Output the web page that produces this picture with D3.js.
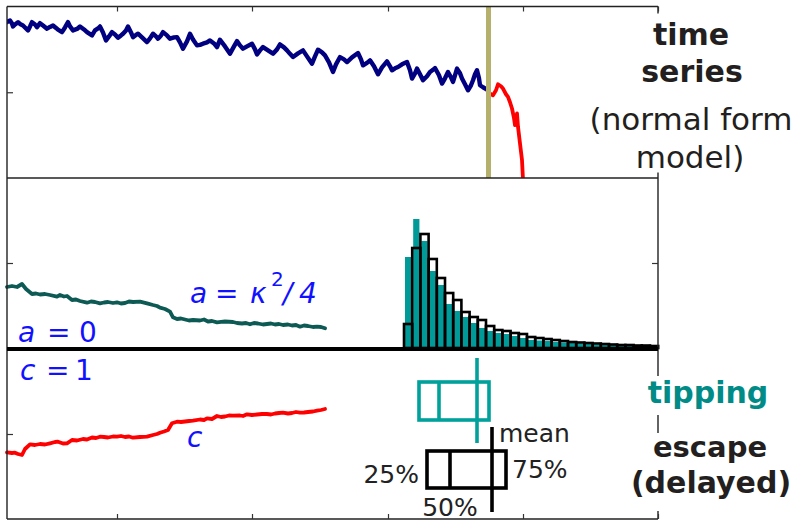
<!DOCTYPE html>
<html><head><meta charset="utf-8">
<script src="https://cdn.jsdelivr.net/npm/d3@7"></script>
<style>
body{margin:0;background:#fff}
svg{display:block}
text{font-family:"DejaVu Sans",sans-serif}
</style>
</head><body>
<svg id="c" width="797" height="521"></svg>
<script>
// ---------------- data ----------------
const xTicks = [110, 245, 381, 516, 651];

// top panel: normal form model time series (before / after tipping)
const blueT = [0,2,3,5,6,8,11,13,16,18,21,23,25,28,30,33,36,40,43,46,49,51,55,58,61,63,66,70,73,77,80,85,88,91,93,96,99,102,105,108,111,114,116,119,121,124,126,129,131,135,140,143,146,149,151,154,156,160,163,167,170,173,176,180,183,186,190,193,196,200,203,207,210,213,218,223,227,230,233,236,240,245,248,250,253,256,261,266,270,273,277,280,283,286,291,296,300,305,308,311,315,318,322,326,329,333,337,340,345,351,354,356,360,363,367,371,375,380,383,385,388,391,395,400,403,405,408,410,413,416,420,423,426,428,432,435,438,441,444,446,448,450,453,455,458,461,464,466,468,470,472,473,476,480];
const blueV = [7.03,7.15,7.2,6.9,6.6,6.8,7.03,6.85,6.7,6.5,6.2,6.6,7.03,6.8,6.53,6.93,6.7,6.37,6.55,6.7,6.45,6.27,6.03,6.5,7.03,6.6,6.2,6.35,6.6,6.3,6.03,5.7,6.2,6.4,6.6,6.0,5.2,5.6,6.03,5.8,5.47,5.7,5.87,6.2,6.6,6.0,5.53,5.75,5.87,5.5,5.03,5.4,5.87,5.6,5.37,5.7,6.03,5.7,5.37,5.5,5.53,5.0,4.37,5.1,5.87,5.3,4.7,4.75,4.87,5.0,5.2,4.9,4.53,5.27,4.6,3.87,4.6,5.13,4.7,4.37,4.6,4.87,4.3,3.8,4.2,4.53,4.2,3.87,4.3,4.8,4.5,4.2,3.85,3.53,3.9,4.2,3.6,2.87,3.6,4.27,4.0,3.7,3.0,2.03,2.8,3.53,3.3,3.03,3.5,3.93,3.3,2.7,2.95,3.2,2.6,1.8,2.5,3.1,2.6,2.2,2.4,2.53,2.8,3.03,2.2,1.37,1.9,2.37,1.8,1.2,1.6,2.03,2.25,2.43,1.7,0.87,1.4,2.03,1.5,1.03,1.7,2.37,1.9,1.37,0.8,0.2,0.7,1.2,1.8,2.2,1.4,0.7,0.5,0.27];
const redT = [480,483,486,489,491,494,496,499,501,503,505,507,508,510,511,513,515,516];
const redV = [0.27,-0.13,-0.3,0.2,0.8,0.6,0.37,-0.2,-0.47,-1.0,-1.63,-2.6,-3.3,-2.13,-3.47,-5.13,-6.8,-8.8];
const tippingTime = 481.5;

// middle panel: a(t) path and histograms
const aLineT = [0,5,10,15,19,25,29,33,38,43,50,53,57,60,65,69,73,80,84,88,93,97,101,106,110,114,118,122,126,133,140,146,150,153,158,163,166,170,174,178,182,186,193,197,201,205,210,214,218,226,230,235,239,243,247,251,256,260,264,268,272,276,281,285,289,293,297,301,306,310,314,318];
const aLineV = [6.1,6.2,6.1,6.4,5.9,5.4,5.45,5.35,5.4,5.3,5.13,5.3,5.15,5.2,4.8,4.85,4.7,4.53,4.65,4.6,4.47,4.55,4.6,4.5,4.57,4.45,4.5,4.65,4.6,4.63,4.47,4.3,4.2,4.03,3.9,3.63,3.07,2.9,2.95,2.85,2.75,2.8,2.75,2.85,2.65,2.7,2.57,2.62,2.65,2.6,2.5,2.45,2.5,2.37,2.5,2.45,2.35,2.4,2.45,2.35,2.4,2.3,2.35,2.25,2.3,2.13,2.25,2.2,2.1,2.13,2.1,1.97];
const binStart = 397, binWidth = 8.2;
const escapeCounts  = [2.4,10.0,11.4,8.9,7.0,5.5,4.8,3.6,3.1,2.8,2.2,1.8,1.7,1.5,1.4,1.1,1.0,0.9,0.8,0.7,0.6,0.55,0.5,0.45,0.4,0.35,0.3,0.3,0.25,0.25,0.2];
const tippingCounts = [9.1,12.9,10.7,7.7,6.3,4.4,3.7,3.1,2.5,2.0,1.7,1.5,1.4,1.2,1.0,0.8,0.75,0.7,0.6,0.55,0.5,0.45,0.4,0.35,0.3,0.3,0.25,0.2,0.2,0.15,0.15];

// bottom panel: c(t) path and quartile boxes
const cLineT = [0,5,8,11,15,18,23,28,33,38,43,48,51,56,60,65,70,76,80,85,89,93,97,101,106,110,114,118,122,126,133,140,146,150,153,157,161,165,170,174,178,182,186,193,197,200,205,210,214,218,222,226,233,236,240,245,250,255,260,264,268,272,276,281,285,289,293,297,301,306,310,314,318];
const cLineV = [6.67,6.6,6.63,6.5,6.4,7.0,7.47,7.4,7.5,7.45,7.57,7.7,7.73,7.55,7.57,7.9,7.85,8.0,7.95,8.15,8.1,8.23,8.2,8.15,8.25,8.23,8.3,8.2,8.25,8.13,8.2,8.23,8.4,8.5,8.63,8.75,8.9,9.57,9.73,9.7,9.75,9.8,9.83,9.95,9.9,10.07,10.0,10.3,10.2,10.25,10.35,10.33,10.35,10.3,10.47,10.4,10.45,10.5,10.5,10.45,10.55,10.6,10.63,10.55,10.6,10.7,10.63,10.65,10.7,10.75,10.83,10.9,11.0];
const statLabels = ["25%", "50%", "mean", "75%"];
const tippingStats = [412, 432, 470, 482];
const escapeStats  = [420, 443, 485, 499];

// ---------------- drawing ----------------
const svg = d3.select("#c");
const L = 7, R = 658, T1 = 6.5, B1 = 178, B2 = 349, B3 = 519;
const x = d3.scaleLinear().domain([0, 651]).range([L, R]);
const yTop = d3.scaleLinear().domain([-8.6, 8.6]).range([B1, T1]);
const yMid = d3.scaleLinear().domain([0, 17]).range([348, B1]);
const yBot = d3.scaleLinear().domain([0, 17]).range([B3, B2]);

const defs = svg.append("defs");
defs.append("clipPath").attr("id","clipTop").append("rect")
  .attr("x", L).attr("y", T1).attr("width", R-L).attr("height", B1-T1);

const zip = (a,b) => a.map((v,i)=>[v,b[i]]);

// top panel
const gTop = svg.append("g").attr("clip-path","url(#clipTop)");
const lineTop = d3.line().x(d=>x(d[0])).y(d=>yTop(d[1]));
gTop.append("path").attr("d", lineTop(zip(blueT, blueV)))
  .attr("fill","none").attr("stroke","#000080").attr("stroke-width",4.4)
  .attr("stroke-linejoin","round").attr("stroke-linecap","round");
gTop.append("path").attr("d", lineTop(zip(redT, redV)))
  .attr("fill","none").attr("stroke","#ff0000").attr("stroke-width",3.8).attr("stroke-linejoin","round");
gTop.append("line").attr("x1", x(tippingTime)).attr("x2", x(tippingTime))
  .attr("y1", T1).attr("y2", B1).attr("stroke","#b5b06b").attr("stroke-width",5);

// middle panel
const lineMid = d3.line().x(d=>x(d[0])).y(d=>yMid(d[1]));
svg.append("path").attr("d", lineMid(zip(aLineT, aLineV)))
  .attr("fill","none").attr("stroke","#0d5a55").attr("stroke-width",3.8)
  .attr("stroke-linejoin","round").attr("stroke-linecap","round");

const gHist = svg.append("g");
gHist.selectAll("rect.tip").data(tippingCounts).join("rect").attr("class","tip")
  .attr("x",(d,i)=>x(binStart+i*binWidth)+0.12*(x(binWidth)-x(0)))
  .attr("width",0.76*(x(binWidth)-x(0)))
  .attr("y",d=>yMid(d)).attr("height",d=>yMid(0)-yMid(d))
  .attr("fill","#009b98");
gHist.selectAll("rect.esc").data(escapeCounts).join("rect").attr("class","esc")
  .attr("x",(d,i)=>x(binStart+i*binWidth))
  .attr("width",x(binWidth)-x(0))
  .attr("y",d=>yMid(d)).attr("height",d=>yMid(0)-yMid(d))
  .attr("fill","none").attr("stroke","#000").attr("stroke-width",2.6);

// bottom panel
const lineBot = d3.line().x(d=>x(d[0])).y(d=>yBot(d[1]));
svg.append("path").attr("d", lineBot(zip(cLineT, cLineV)))
  .attr("fill","none").attr("stroke","#ff0000").attr("stroke-width",3.8)
  .attr("stroke-linejoin","round").attr("stroke-linecap","round");

function boxPlot(stats, color, boxTop, boxBot, meanTop, meanBot){
  const g = svg.append("g").attr("stroke", color).attr("fill","none").attr("stroke-width",3.6);
  g.append("rect").attr("x", x(stats[0])).attr("y", boxTop)
    .attr("width", x(stats[3])-x(stats[0])).attr("height", boxBot-boxTop);
  g.append("line").attr("x1", x(stats[1])).attr("x2", x(stats[1])).attr("y1", boxTop).attr("y2", boxBot);
  g.append("line").attr("x1", x(stats[2])).attr("x2", x(stats[2])).attr("y1", meanTop).attr("y2", meanBot);
}
boxPlot(tippingStats, "#00a09b", 382, 420, 358, 443);
boxPlot(escapeStats, "#000", 451, 488, 427, 512);

const lab = svg.append("g").attr("fill","#222").attr("font-size",25);
lab.append("text").attr("x", x(escapeStats[0])-8).attr("y",483).attr("text-anchor","end").text(statLabels[0]);
lab.append("text").attr("x", x(escapeStats[1])).attr("y",516).attr("text-anchor","middle").text(statLabels[1]);
lab.append("text").attr("x", x(escapeStats[2])+7).attr("y",442).text(statLabels[2]);
lab.append("text").attr("x", x(escapeStats[3])+6).attr("y",478).text(statLabels[3]);

// frames
const fr = svg.append("g").attr("stroke","#222").attr("stroke-width",1.4).attr("fill","none");
fr.append("line").attr("x1",L).attr("x2",R).attr("y1",T1).attr("y2",T1);
fr.append("line").attr("x1",L).attr("x2",R).attr("y1",B1).attr("y2",B1);
fr.append("line").attr("x1",L).attr("x2",R).attr("y1",B3).attr("y2",B3);
fr.append("line").attr("x1",L).attr("x2",L).attr("y1",T1).attr("y2",B3);
fr.append("line").attr("x1",R).attr("x2",R).attr("y1",T1).attr("y2",B3);
svg.append("line").attr("x1",L).attr("x2",R).attr("y1",B2).attr("y2",B2)
  .attr("stroke","#000").attr("stroke-width",4);

// ticks (inward, unlabeled)
function ticks(axis, transform){
  const g = svg.append("g").attr("transform", transform).call(axis);
  g.select(".domain").remove();
  g.selectAll(".tick line").attr("stroke","#333").attr("stroke-width",1.2);
  g.selectAll(".tick text").remove();
}
ticks(d3.axisTop(x).tickValues(xTicks).tickSize(-5).tickFormat(""), `translate(0,${T1})`);
ticks(d3.axisBottom(x).tickValues(xTicks).tickSize(-5).tickFormat(""), `translate(0,${B3})`);
ticks(d3.axisLeft(yTop).tickValues([0]).tickSize(-6).tickFormat(""), `translate(${L},0)`);
ticks(d3.axisRight(yTop).tickValues([0]).tickSize(-6).tickFormat(""), `translate(${R},0)`);
ticks(d3.axisLeft(yMid).tickValues([8.5]).tickSize(-6).tickFormat(""), `translate(${L},0)`);
ticks(d3.axisRight(yMid).tickValues([8.5]).tickSize(-6).tickFormat(""), `translate(${R},0)`);
ticks(d3.axisLeft(yBot).tickValues([8.5]).tickSize(-6).tickFormat(""), `translate(${L},0)`);
ticks(d3.axisRight(yBot).tickValues([8.5]).tickSize(-6).tickFormat(""), `translate(${R},0)`);

// blue math labels
const blue = "#1111ff";
function mathText(parts, baseline){
  const t = svg.append("text").attr("fill", blue).attr("font-size", 28).attr("y", baseline);
  parts.forEach(p => {
    const s = t.append("tspan").attr("x", p.x).attr("y", p.y || baseline).text(p.s);
    if (p.it) s.attr("font-style","italic");
    if (p.fs) s.attr("font-size", p.fs);
  });
}
mathText([{s:"a",x:190,it:1},{s:"=",x:215},{s:"κ",x:250,it:1},{s:"2",x:271,y:286,fs:20},{s:"/",x:283,it:1},{s:"4",x:299,it:1}], 303);
mathText([{s:"a",x:18,it:1},{s:"=",x:47},{s:"0",x:79}], 342);
mathText([{s:"c",x:20,it:1},{s:"=",x:46},{s:"1",x:75}], 380);
mathText([{s:"c",x:187,it:1}], 447);

// right-side captions with white backgrounds
svg.append("rect").attr("x",586).attr("y",13.5).attr("width",211).attr("height",159).attr("fill","#fff");
svg.append("rect").attr("x",640).attr("y",376).attr("width",140).attr("height",39).attr("fill","#fff");
svg.append("rect").attr("x",622).attr("y",433).attr("width",175).attr("height",78).attr("fill","#fff");

const cap = svg.append("g").attr("fill","#231f20").attr("text-anchor","middle");
cap.append("text").attr("x",691).attr("y",45).attr("font-size",30).attr("font-weight","bold").text("time");
cap.append("text").attr("x",692).attr("y",82).attr("font-size",30).attr("font-weight","bold").text("series");
cap.append("text").attr("x",691).attr("y",130).attr("font-size",31).text("(normal form");
cap.append("text").attr("x",690).attr("y",168).attr("font-size",31).text("model)");
cap.append("text").attr("x",708).attr("y",403).attr("font-size",30).attr("font-weight","bold").attr("fill","#008b87").text("tipping");
cap.append("text").attr("x",710).attr("y",457).attr("font-size",29).attr("font-weight","bold").text("escape");
cap.append("text").attr("x",711).attr("y",493).attr("font-size",30).attr("font-weight","bold").text("(delayed)");
</script>
</body></html>
